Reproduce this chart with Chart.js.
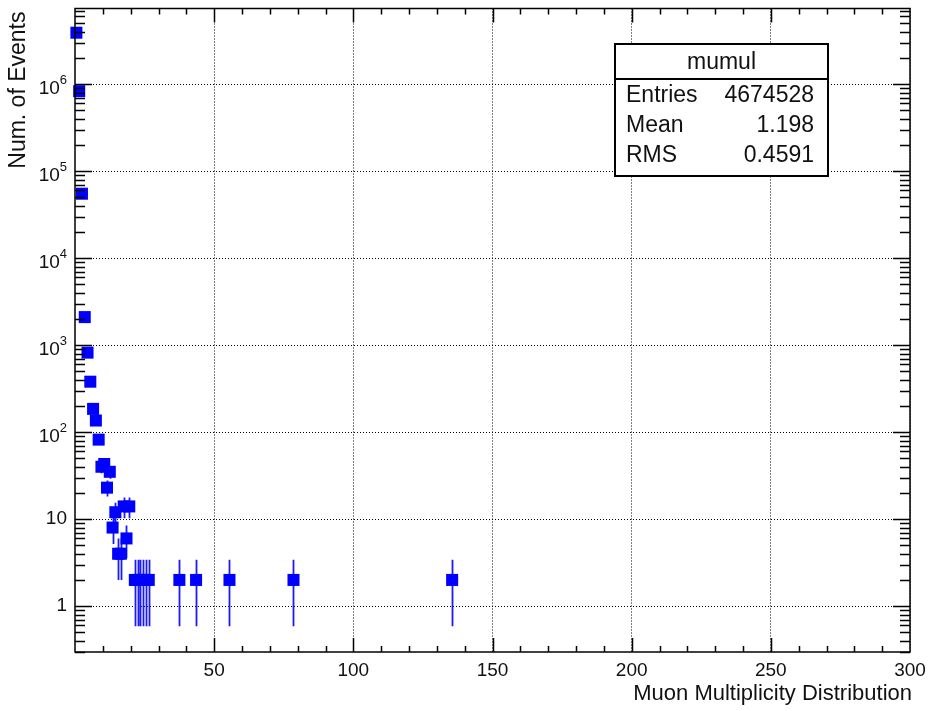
<!DOCTYPE html>
<html>
<head>
<meta charset="utf-8">
<title>mumul</title>
<script src="https://cdn.jsdelivr.net/npm/chart.js@4.4.1/dist/chart.umd.min.js"></script>
<style>
  html, body { margin: 0; padding: 0; background: #fff; }
  canvas { display: block; }
</style>
</head>
<body>
<canvas id="mumulChart" width="930" height="711"></canvas>
<script>
// muon multiplicity histogram (1 unit bins), only the non-empty bins are listed
const multiplicity = [0, 1, 2, 3, 4, 5, 6, 7, 8, 9, 10, 11, 12, 13, 14, 15, 16, 17, 18, 19,
                      21, 22, 23, 24, 25, 26, 37, 43, 55, 78, 135];
const events = [3.9e6, 8.3e5, 5.5e4, 2100, 820, 380, 185, 136, 82, 40, 43, 23, 35, 8, 12, 4, 4, 14, 6, 14,
                2, 2, 2, 2, 2, 2, 2, 2, 2, 2, 2];

// axis ticks
const xTicks = [50, 100, 150, 200, 250, 300];
const xTickLabels = ['50', '100', '150', '200', '250', '300'];
const yTicks = [1, 10, 100, 1000, 10000, 100000, 1000000];
const yTickBase = ['1', '10', '10', '10', '10', '10', '10'];
const yTickExp = ['', '', '2', '3', '4', '5', '6'];

// stats box
const statsTitle = 'mumul';
const statsNames = ['Entries', 'Mean', 'RMS'];
const statsValues = ['4674528', '1.198', '0.4591'];

const FONT = '"Liberation Sans", Arial, Helvetica, sans-serif';
const BLUE = '#0000ff';

// ROOT style frame: error bars, inner ticks, labels, stats box
const rootFrame = {
  id: 'rootFrame',
  beforeDatasetsDraw(chart) {
    const ctx = chart.ctx, xs = chart.scales.x, ys = chart.scales.y, a = chart.chartArea;
    ctx.save();
    ctx.beginPath();
    ctx.rect(a.left, a.top, a.right - a.left, a.bottom - a.top);
    ctx.clip();
    ctx.strokeStyle = '#1a1aff';
    ctx.lineWidth = 1.8;
    ctx.beginPath();
    events.forEach((n, i) => {
      const x = Math.round(xs.getPixelForValue(multiplicity[i] + 0.5)) + 0.5;
      const err = Math.sqrt(n);
      const lo = Math.max(n - err, 1e-3);
      ctx.moveTo(x, ys.getPixelForValue(n + err));
      ctx.lineTo(x, ys.getPixelForValue(lo));
    });
    ctx.stroke();
    ctx.restore();
  },
  afterDraw(chart) {
    const ctx = chart.ctx, xs = chart.scales.x, ys = chart.scales.y, a = chart.chartArea;
    ctx.save();
    ctx.strokeStyle = '#000';
    ctx.lineWidth = 1.5;
    ctx.strokeRect(a.left, a.top, a.right - a.left, a.bottom - a.top);

    // x ticks (bottom and top)
    ctx.beginPath();
    for (let v = 10; v < 300; v += 10) {
      const x = Math.round(xs.getPixelForValue(v)) + 0.5;
      const len = v % 50 === 0 ? 14 : 6;
      ctx.moveTo(x, a.bottom); ctx.lineTo(x, a.bottom - len);
      ctx.moveTo(x, a.top); ctx.lineTo(x, a.top + len);
    }
    // y ticks (left and right)
    for (let d = 0.1; d < 1e7; d *= 10) {
      for (let m = 1; m <= 9; m++) {
        const v = m * d;
        if (v < ys.min || v > ys.max) continue;
        const y = Math.round(ys.getPixelForValue(v)) + 0.5;
        const len = m === 1 ? 17 : 10;
        ctx.moveTo(a.left, y); ctx.lineTo(a.left + len, y);
        ctx.moveTo(a.right, y); ctx.lineTo(a.right - len, y);
      }
    }
    ctx.stroke();

    // tick labels
    ctx.fillStyle = '#111';
    ctx.font = '19px ' + FONT;
    ctx.textAlign = 'center';
    ctx.textBaseline = 'middle';
    xTicks.forEach((v, i) => {
      ctx.fillText(xTickLabels[i], xs.getPixelForValue(v), a.bottom + 19);
    });
    const labelRight = a.left - 8;
    yTicks.forEach((v, i) => {
      const y = ys.getPixelForValue(v);
      ctx.textAlign = 'right';
      if (yTickExp[i]) {
        ctx.font = '13px ' + FONT;
        const w = ctx.measureText(yTickExp[i]).width;
        ctx.fillText(yTickExp[i], labelRight, y - 4);
        ctx.font = '19px ' + FONT;
        ctx.fillText(yTickBase[i], labelRight - w, y + 5);
      } else {
        ctx.font = '19px ' + FONT;
        ctx.fillText(yTickBase[i], labelRight, y);
      }
    });

    // axis titles
    ctx.font = '22px ' + FONT;
    ctx.textAlign = 'right';
    ctx.fillText('Muon Multiplicity Distribution', a.right + 2, a.bottom + 42);
    ctx.save();
    ctx.translate(19, a.top + 3);
    ctx.rotate(-Math.PI / 2);
    ctx.font = '23px ' + FONT;
    ctx.textAlign = 'right';
    ctx.fillText('Num. of Events', 0, 0);
    ctx.restore();

    // stats box
    const bx = 615, by = 44, bw = 213, bh = 132;
    ctx.fillStyle = '#fff';
    ctx.fillRect(bx, by, bw, bh);
    ctx.strokeStyle = '#000';
    ctx.lineWidth = 2;
    ctx.strokeRect(bx, by, bw, bh);
    ctx.beginPath();
    ctx.moveTo(bx, by + 35); ctx.lineTo(bx + bw, by + 35);
    ctx.stroke();
    ctx.fillStyle = '#111';
    ctx.font = '23px ' + FONT;
    ctx.textAlign = 'center';
    ctx.fillText(statsTitle, bx + bw / 2, by + 19);
    statsNames.forEach((name, i) => {
      const y = by + 52 + i * 30;
      ctx.textAlign = 'left';
      ctx.fillText(name, bx + 11, y);
      ctx.textAlign = 'right';
      ctx.fillText(statsValues[i], bx + bw - 14, y);
    });
    ctx.restore();
  }
};

const gridStyle = { color: '#000', lineWidth: 1, drawTicks: false };

new Chart(document.getElementById('mumulChart').getContext('2d'), {
  type: 'scatter',
  data: {
    datasets: [{
      label: statsTitle,
      data: multiplicity.map((m, i) => ({ x: m + 0.5, y: events[i] })),
      pointStyle: 'rect',
      pointRadius: 8.5,
      backgroundColor: BLUE,
      borderColor: BLUE,
      borderWidth: 0,
      clip: false
    }]
  },
  options: {
    responsive: false,
    animation: false,
    events: [],
    devicePixelRatio: 1,
    layout: { padding: { left: 75, right: 20, top: 7, bottom: 59 } },
    scales: {
      x: {
        type: 'linear',
        min: 0,
        max: 300,
        afterBuildTicks: axis => { axis.ticks = xTicks.map(v => ({ value: v })); },
        ticks: { display: false },
        grid: gridStyle,
        border: { display: false, dash: [1, 2] }
      },
      y: {
        type: 'logarithmic',
        min: 0.297,
        max: 7.4e6,
        afterBuildTicks: axis => { axis.ticks = yTicks.map(v => ({ value: v })); },
        ticks: { display: false },
        grid: gridStyle,
        border: { display: false, dash: [1, 2] }
      }
    },
    plugins: {
      legend: { display: false },
      tooltip: { enabled: false }
    }
  },
  plugins: [rootFrame]
});
</script>
</body>
</html>
